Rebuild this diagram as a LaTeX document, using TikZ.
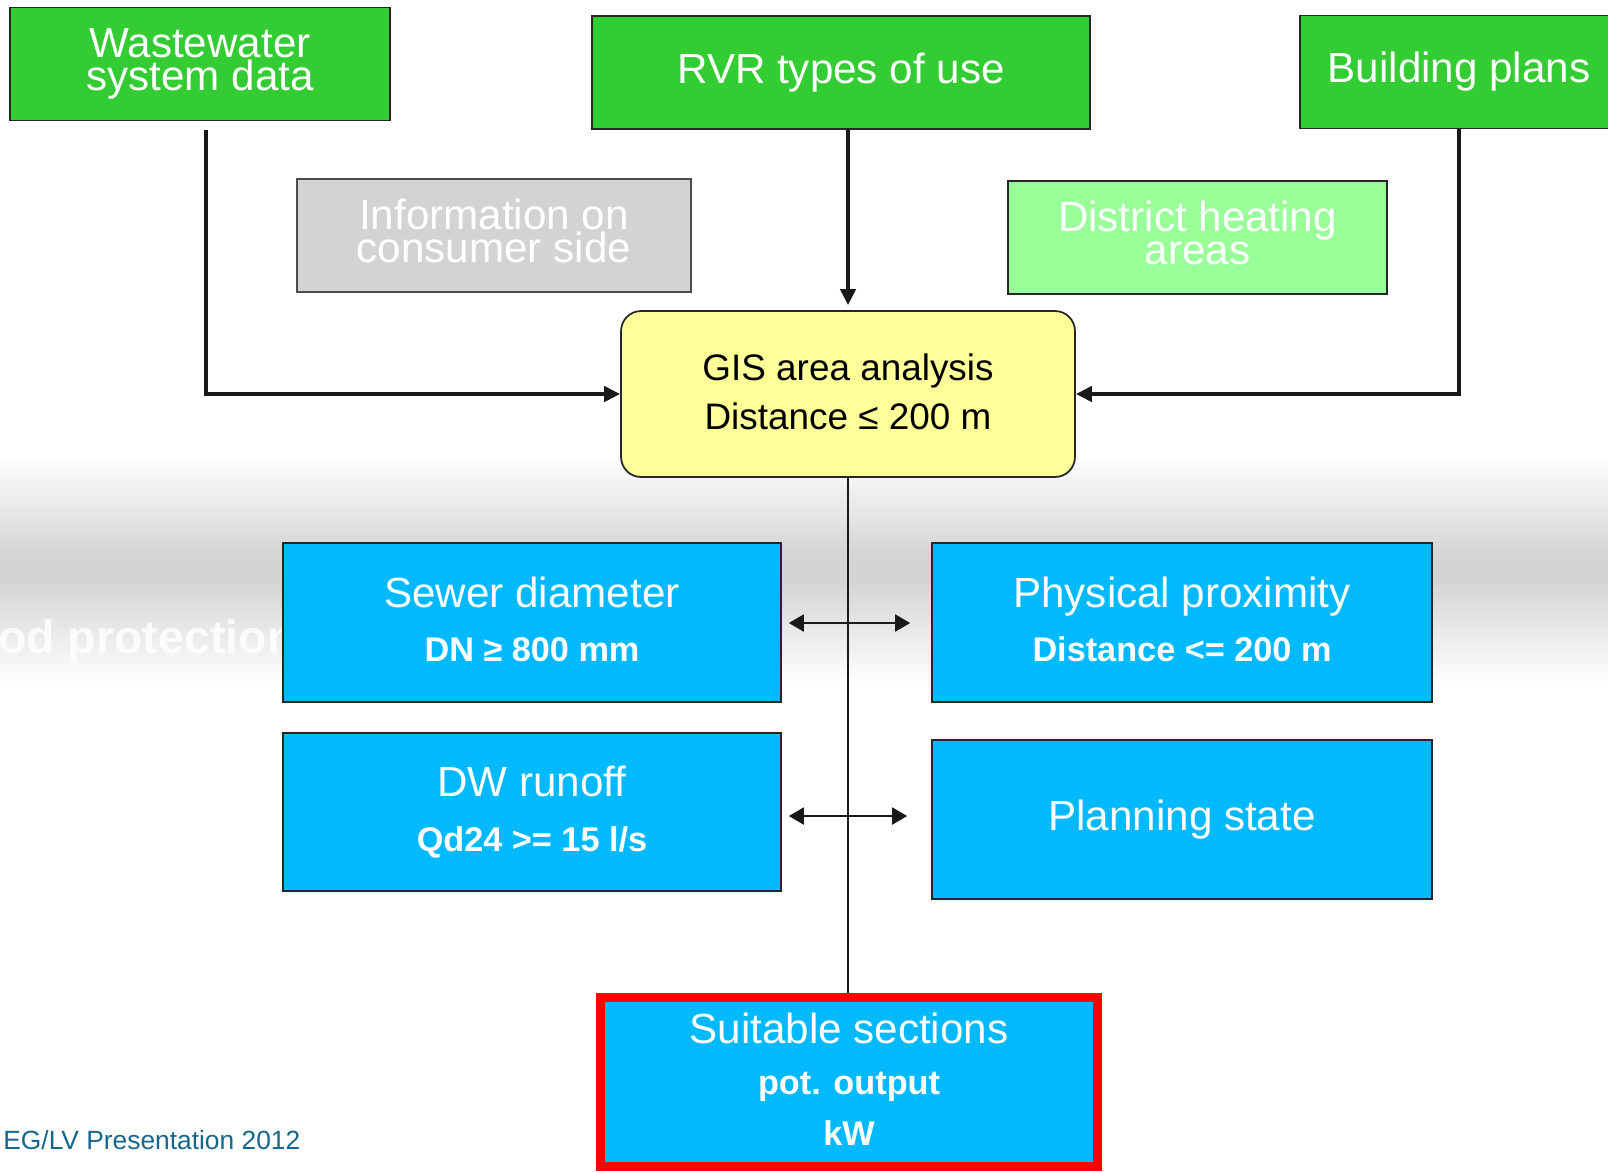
\documentclass[tikz,border=0pt]{standalone}
\usepackage{fontspec}
\setmainfont{Liberation Sans}
\usetikzlibrary{arrows.meta}

\definecolor{boxgreen}{RGB}{51,204,51}
\definecolor{palegreen}{RGB}{153,255,153}
\definecolor{infogray}{RGB}{211,211,211}
\definecolor{gisyellow}{RGB}{255,255,153}
\definecolor{critblue}{RGB}{0,185,255}
\definecolor{bandgray}{RGB}{212,212,212}
\definecolor{footblue}{RGB}{22,102,142}

% bold second line inside the blue boxes
\newcommand{\critline}[1]{{\bfseries\fontsize{19.5}{31}\selectfont #1}}

\begin{document}
\begin{tikzpicture}[x = 0.02cm, y = -0.02cm,
  box/.style = {draw = black!85, line width = 1pt, text = white, align = center, inner sep = 0pt},
  srcbox/.style = {box, fill = boxgreen, font = \fontsize{24}{19}\selectfont, minimum height = 2.26cm},
  sidebox/.style = {box, font = \fontsize{24}{19}\selectfont, minimum height = 2.26cm, text depth = 0.2cm},
  critbox/.style = {box, fill = critblue, font = \fontsize{24}{31}\selectfont, minimum height = 3.18cm},
  flow/.style = {draw = black!90, line width = 2.3pt, -{Triangle[length = 0.32cm, width = 0.3cm]}},
  link/.style = {draw = black!90, line width = 1.4pt},
  both/.style = {draw = black!90, line width = 1.1pt,
    {Triangle[length = 0.3cm, width = 0.34cm]}-{Triangle[length = 0.3cm, width = 0.34cm]}}
]
  \useasboundingbox (0,0) rectangle (1608,1171);
  \clip (0,0) rectangle (1608,1171);
  \fill[white] (0,0) rectangle (1608,1171);

  % grey band behind the criteria
  \shade[top color = white, bottom color = bandgray] (0,453) rectangle (1608,556);
  \fill[bandgray] (0,555) rectangle (1608,581);
  \shade[top color = bandgray, bottom color = white] (0,580) rectangle (1608,685);
  \node[anchor = base west, text = white, text opacity = 0.85, font = \bfseries\fontsize{26.5}{30}\selectfont,
    inner sep = 0pt] (flood) at (-72,653) {Flood protection};

  % sources
  \node[srcbox, minimum width = 7.6cm] (waste) at (200,64) {Wastewater\\system data};
  \node[srcbox, minimum width = 9.96cm] (rvr) at (841,72.5) {RVR types of use};
  \node[srcbox, minimum width = 6.36cm] (build) at (1459,72) {Building plans};
  \node[sidebox, fill = infogray, draw = black!70, minimum width = 7.88cm] (info) at (494,235.5)
    {Information on\\consumer side};
  \node[sidebox, fill = palegreen, minimum width = 7.58cm] (heat) at (1197.5,237.5)
    {District heating\\areas};

  % analysis
  \node[box, fill = gisyellow, text = black, rounded corners = 0.4cm,
    minimum width = 9.08cm, minimum height = 3.32cm, text depth = 0.1cm,
    font = \fontsize{21}{28}\selectfont] (gis) at (848,394)
    {GIS area analysis\\Distance ≤ 200 m};

  % criteria
  \node[critbox, minimum width = 9.96cm, text depth = 0.14cm] (sewer) at (532,622.5)
    {Sewer diameter\\\critline{DN ≥ 800 mm}};
  \node[critbox, minimum width = 10cm, text depth = 0.14cm] (phys) at (1182,622.5)
    {Physical proximity\\\critline{Distance <= 200 m}};
  \node[critbox, minimum width = 9.96cm, minimum height = 3.16cm] (dw) at (532,812)
    {DW runoff\\\critline{Qd24 >= 15 l/s}};
  \node[critbox, minimum width = 10cm] (plan) at (1182,819.5) {Planning state};

  % result
  \node[box, fill = critblue, draw = red, line width = 0.18cm,
    minimum width = 9.94cm, minimum height = 3.38cm, text depth = 0.1cm,
    font = \fontsize{24}{29}\selectfont] (suit) at (849,1082)
    {Suitable sections\\\critline{pot. output}\\\critline{kW}};

  \node[anchor = west, text = footblue, font = \fontsize{15}{18}\selectfont, inner sep = 0pt]
    (foot) at (3,1140) {EG/LV Presentation 2012};

  % connectors
  \draw[flow, shorten <= 0.18cm] ([shift = {(6,0)}]waste.south) |- (gis.west);
  \draw[flow] (build.south) |- (gis.east);
  \draw[flow, shorten >= 0.1cm] (gis.north |- rvr.south) -- (gis.north);
  \draw[link] (gis.south) -- (gis.south |- suit.north);
  \draw[both] ([shift = {(7,0.5)}]sewer.east) -- ([shift = {(-21,0.5)}]phys.west);
  \draw[both] ([shift = {(7,4)}]dw.east) -- ([shift = {(-24,-3.5)}]plan.west);
\end{tikzpicture}
\end{document}
